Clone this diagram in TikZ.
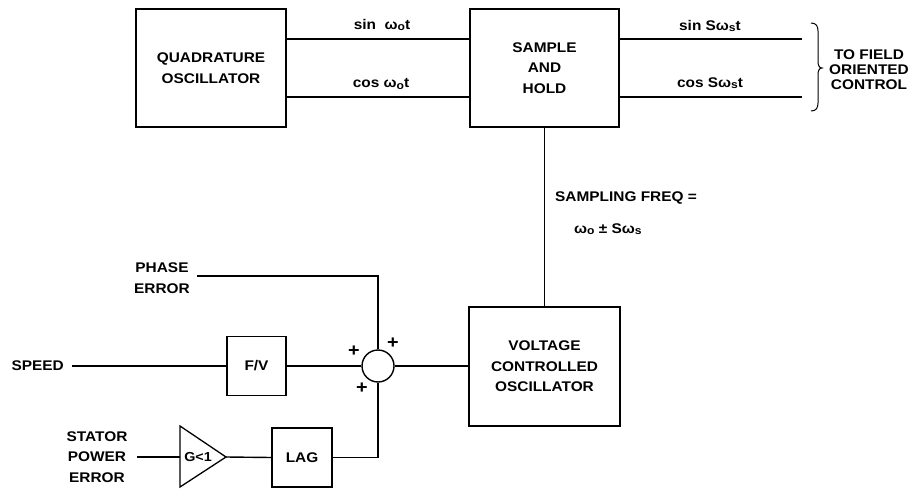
\documentclass[tikz,border=0pt]{standalone}
\usepackage{fontspec}
\setmainfont{Liberation Sans}[FakeStretch=1.1]
\usetikzlibrary{calc}
\tikzset{
  blk/.style={draw, line width=1.5pt, inner sep=0pt, align=center, font=\bfseries\fontsize{14}{20.5}\selectfont},
  wire/.style={line width=1.4pt},
  txt/.style={inner sep=0pt, align=center, font=\bfseries\fontsize{14}{20.5}\selectfont},
  lbl/.style={inner sep=0pt, font=\bfseries\fontsize{14}{15}\selectfont},
  sgn/.style={inner sep=0pt, font=\bfseries\fontsize{18}{18}\selectfont},
}
\newcommand{\sbo}{\raisebox{-0.2ex}{\fontsize{11}{11}\selectfont o}}
\newcommand{\sbs}{\raisebox{-0.2ex}{\fontsize{11}{11}\selectfont s}}
\begin{document}
\begin{tikzpicture}[x=1pt,y=-1pt]
\useasboundingbox (0,0) rectangle (917,489);
% blocks
\node[blk, minimum width=150pt, minimum height=118pt] (qo) at (211,68) {QUADRATURE\\OSCILLATOR};
\node[blk, minimum width=149pt, minimum height=118pt] (sh) at (544.5,68) {SAMPLE\\AND\\HOLD};
\node[blk, minimum width=151pt, minimum height=119pt] (vco) at (544.5,366.5) {VOLTAGE\\CONTROLLED\\OSCILLATOR};
\node[blk, minimum width=59pt, minimum height=59pt] (fv) at (256.5,366) {F/V};
\node[blk, minimum width=60pt, minimum height=59pt] (lag) at (302,457.5) {LAG};
\node[draw, circle, line width=1.4pt, minimum size=32pt, inner sep=0pt] (sum) at (378,366) {};
% amplifier triangle
\coordinate (gin) at (180,457);
\coordinate (gout) at (226,457);
\draw[line width=1.3pt] (180,426) -- (gout) -- (180,487) -- cycle;
\node[txt, font=\bfseries\fontsize{13}{15}\selectfont] (g) at (198,457) {G<1};
% top connections
\draw[wire] (qo.east |- 0,39) -- (sh.west |- 0,39);
\draw[wire] (qo.east |- 0,97) -- (sh.west |- 0,97);
\coordinate (o1) at (802,39);
\coordinate (o2) at (802,97);
\draw[wire] (sh.east |- o1) -- (o1);
\draw[wire] (sh.east |- o2) -- (o2);
\node[lbl] (l1) at (382,25) {sin\ \ ω\sbo t};
\node[lbl] (l2) at (381,84) {cos ω\sbo t};
\node[lbl] (l3) at (710,26) {sin Sω\sbs t};
\node[lbl] (l4) at (710,83) {cos Sω\sbs t};
% brace
\draw[line width=1pt] (811,23) .. controls (816,23) and (818,26) .. (818,31) -- (818,61) .. controls (818,65) and (819,68) .. (822,68) .. controls (819,68) and (818,71) .. (818,75) -- (818,103) .. controls (818,108) and (816,111) .. (811,111);
\node[txt, font=\bfseries\fontsize{14}{15}\selectfont] (tf) at (869,70) {TO FIELD\\ORIENTED\\CONTROL};
% sample freq
\draw[wire] (sh.south) -- (vco.north);
\node[txt, anchor=west] (sf) at (555,198) {SAMPLING FREQ =};
\node[txt, anchor=west] (sf2) at (574,229) {ω\sbo\ ± Sω\sbs};
% phase error
\node[txt] (pe) at (162,278) {PHASE\\ERROR};
\coordinate (pst) at (197,276);
\draw[wire] (pst) -- (sum.north |- pst) -- (sum.north);
% speed
\node[txt, anchor=east] (sp) at (64,366) {SPEED};
\coordinate (spst) at (72,366);
\draw[wire] (spst) -- (fv.west);
\draw[wire] (fv.east) -- (sum.west);
\draw[wire] (sum.east) -- (vco.west |- sum.east);
% stator power error
\node[txt] (spe) at (97,457) {STATOR\\POWER\\ERROR};
\coordinate (stst) at (137,457);
\draw[wire] (stst) -- (gin);
\draw[wire] (gout) -- (lag.west);
\draw[wire] (lag.east) -- (sum.south |- lag.east) -- (sum.south);
% signs
\node[sgn] (p1) at (354,351) {+};
\node[sgn] (p2) at (393,343) {+};
\node[sgn] (p3) at (362,388) {+};
\end{tikzpicture}
\end{document}
